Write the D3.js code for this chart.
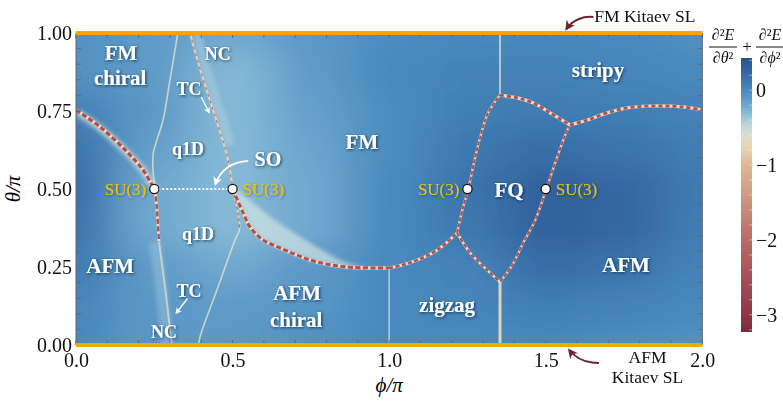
<!DOCTYPE html>
<html>
<head>
<meta charset="utf-8">
<script src="https://cdn.jsdelivr.net/npm/d3@7"></script>
<style>
  body { margin: 0; background: #fff; }
  svg { display: block; }
  text { font-family: "Liberation Serif", "Times New Roman", serif; }
</style>
</head>
<body>
<svg id="chart" width="783" height="401"></svg>
<script>
// ---- data -------------------------------------------------------------
// energy curvature field on a coarse (phi, theta) grid, rows run theta = 0 .. 1
const phiNodes   = [0, 0.25, 0.5, 0.75, 1.0, 1.25, 1.5, 1.75, 2.0];
const thetaNodes = [0, 0.125, 0.25, 0.375, 0.5, 0.625, 0.75, 0.875, 1.0];
const fieldRows = [
  [ 0.00, -0.10, -0.10, -0.05,  0.00,  0.00,  0.00, -0.03, -0.05],
  [ 0.02, -0.10, -0.12, -0.08,  0.00,  0.03,  0.08,  0.05,  0.00],
  [ 0.08, -0.12, -0.20, -0.10,  0.00,  0.05,  0.20,  0.15,  0.05],
  [ 0.15, -0.20, -0.30, -0.20,  0.00,  0.12,  0.30,  0.25,  0.08],
  [ 0.20, -0.20, -0.30, -0.20,  0.00,  0.15,  0.30,  0.25,  0.10],
  [ 0.15, -0.15, -0.30, -0.18, -0.02,  0.12,  0.20,  0.15,  0.08],
  [ 0.05, -0.10, -0.30, -0.15, -0.02,  0.08,  0.10,  0.08,  0.05],
  [-0.05, -0.12, -0.30, -0.12,  0.00,  0.05,  0.05,  0.03,  0.00],
  [-0.05, -0.12, -0.20, -0.10, -0.02,  0.00,  0.02,  0.00, -0.05]
];

// phase boundaries, [phi/pi, theta/pi]
const afmFmChiral   = [[0,0.753],[0.077,0.699],[0.163,0.619],[0.214,0.561],[0.243,0.513],[0.252,0.5]];
const su3LeftDown   = [[0.252,0.5],[0.258,0.44],[0.265,0.33]];
const ncLowerLine   = [[0.265,0.33],[0.285,0.18],[0.30,0.05],[0.305,0.0]];
const q1dLeftUpper  = [[0.252,0.5],[0.246,0.56],[0.247,0.615],[0.278,0.721],[0.30,0.849],[0.323,0.987],[0.325,1.0]];
const tcUpper       = [[0.365,1.0],[0.374,0.962],[0.419,0.811],[0.450,0.715],[0.473,0.641],[0.489,0.577],[0.5,0.5]];
const q1dLowerRight = [[0.5,0.5],[0.518,0.42],[0.522,0.37],[0.508,0.337],[0.45,0.176],[0.396,0.026],[0.392,0]];
const soCurve       = [[0.5,0.5],[0.534,0.423],[0.556,0.378],[0.597,0.337],[0.652,0.311],[0.706,0.288],[0.770,0.266],[0.866,0.250],[1.0,0.247]];
const soBandUpper   = [[0.511,0.5],[0.556,0.465],[0.604,0.423],[0.668,0.378],[0.732,0.337],[0.796,0.298],[0.859,0.266],[0.907,0.253]];
const zigzagFm      = [[1.0,0.247],[1.045,0.257],[1.089,0.272],[1.153,0.304],[1.217,0.359]];
const fqLeft        = [[1.217,0.359],[1.236,0.442],[1.253,0.5],[1.268,0.571],[1.291,0.667],[1.316,0.744],[1.354,0.801]];
const fqStripy      = [[1.354,0.801],[1.409,0.792],[1.460,0.776],[1.514,0.744],[1.578,0.705]];
const stripyAfm     = [[1.578,0.705],[1.633,0.721],[1.697,0.744],[1.760,0.760],[1.834,0.766],[1.939,0.763],[2.0,0.753]];
const fqRight       = [[1.578,0.705],[1.569,0.689],[1.537,0.603],[1.502,0.5],[1.467,0.401],[1.428,0.327],[1.393,0.256],[1.354,0.202]];
const fqBottom      = [[1.217,0.359],[1.259,0.295],[1.313,0.240],[1.354,0.202]];
const kitaevTop     = [[1.354,0.801],[1.354,1.0]];
const kitaevBottom  = [[1.354,0.202],[1.354,0.0]];
const chiralZigzag  = [[1.0,0.247],[1.0,0.0]];

// SU(3) points and the SO segment between the first two
const su3Points = [[0.25,0.5,"left"],[0.5,0.5,"right"],[1.25,0.5,"left"],[1.5,0.5,"right"]];

// phase names: text, phi, theta (baseline), size
const phaseLabels = [
  ["FM", 0.144, 0.913, 21], ["chiral", 0.141, 0.833, 21],
  ["NC", 0.453, 0.913, 18], ["TC", 0.361, 0.801, 18], ["q1D", 0.358, 0.609, 18],
  ["SO", 0.613, 0.574, 20], ["FM", 0.913, 0.628, 21], ["stripy", 1.667, 0.859, 21],
  ["FQ", 1.383, 0.474, 21], ["AFM", 0.109, 0.231, 21], ["q1D", 0.390, 0.337, 18],
  ["TC", 0.361, 0.154, 18], ["NC", 0.281, 0.022, 18],
  ["AFM", 0.706, 0.144, 21], ["chiral", 0.703, 0.058, 21],
  ["zigzag", 1.185, 0.106, 21], ["AFM", 1.756, 0.234, 21]
];

const thetaTicks = [0, 0.25, 0.5, 0.75, 1.0];
const phiTicks   = [0, 0.5, 1.0, 1.5, 2.0];
const barTicks   = [0, -1, -2, -3];

// colour map of the curvature
const cmapValues = [0.43, 0.25, 0.1, 0, -0.15, -0.3, -0.45, -0.6, -0.8, -1.0, -1.4, -2.0, -2.5, -3.0, -3.23];
const cmapColors = ["#28548e","#3466a1","#3f7bb2","#4a89bd","#63a0cb","#86b9d6","#b9d5dc",
                    "#dcdfcd","#e6d2b0","#dcb795","#cf9a83","#b96b66","#a4505a","#8c3747","#7b2a3b"];

// ---- setup ------------------------------------------------------------
const svg = d3.select("#chart");
const x = d3.scaleLinear([0, 2], [76, 702.3]);
const y = d3.scaleLinear([0, 1], [345, 33]);
const color = d3.scaleLinear(cmapValues, cmapColors).clamp(true);
const barY = d3.scaleLinear([-3.23, 0.43], [332, 58]);

const defs = svg.append("defs");
defs.append("clipPath").attr("id", "plotClip")
  .append("rect").attr("x", x(0)).attr("y", y(1)).attr("width", x(2) - x(0)).attr("height", y(0) - y(1));

const fieldBlur = defs.append("filter").attr("id", "fieldBlur")
  .attr("filterUnits", "userSpaceOnUse").attr("x", -100).attr("y", -100).attr("width", 1000).attr("height", 600);
fieldBlur.append("feGaussianBlur").attr("stdDeviation", "24 13");

const softBlur = defs.append("filter").attr("id", "softBlur")
  .attr("x", "-20%").attr("y", "-20%").attr("width", "140%").attr("height", "140%");
softBlur.append("feGaussianBlur").attr("stdDeviation", 2.2);

const lineBlur = defs.append("filter").attr("id", "lineBlur")
  .attr("x", "-20%").attr("y", "-20%").attr("width", "140%").attr("height", "140%");
lineBlur.append("feGaussianBlur").attr("stdDeviation", 0.5);

function shadowFilter(id, dev, op) {
  const f = defs.append("filter").attr("id", id).attr("x", "-30%").attr("y", "-40%").attr("width", "160%").attr("height", "180%");
  f.append("feGaussianBlur").attr("in", "SourceAlpha").attr("stdDeviation", dev);
  f.append("feOffset").attr("dx", 1).attr("dy", 1.2).attr("result", "b");
  f.append("feFlood").attr("flood-color", "#0f2742").attr("flood-opacity", op);
  f.append("feComposite").attr("in2", "b").attr("operator", "in");
  const m = f.append("feMerge");
  m.append("feMergeNode");
  m.append("feMergeNode").attr("in", "SourceGraphic");
}
shadowFilter("textShadow", 1.6, 0.85);
shadowFilter("labelShadow", 1.2, 0.45);

function arrowMarker(id, fill) {
  defs.append("marker").attr("id", id).attr("viewBox", "0 0 10 10")
    .attr("refX", 8).attr("refY", 5).attr("markerWidth", 5).attr("markerHeight", 5)
    .attr("orient", "auto-start-reverse")
    .append("path").attr("d", "M0,0 L10,5 L0,10 L3,5 Z").attr("fill", fill);
}
arrowMarker("arrowWhite", "#ffffff");
arrowMarker("arrowMaroon", "#6e2335");

// ---- field ------------------------------------------------------------
const plot = svg.append("g").attr("clip-path", "url(#plotClip)");
const cells = [];
thetaNodes.forEach((t, j) => phiNodes.forEach((p, i) => cells.push({ p, t, v: fieldRows[j][i], i, j })));
const dphi = 0.125, dth = 0.0625;
const last = phiNodes.length - 1, lastT = thetaNodes.length - 1;
const cellX0 = d => x(d.i === 0 ? d.p - 0.6 : d.p - dphi);
const cellX1 = d => x(d.i === last ? d.p + 0.6 : d.p + dphi);
const cellY0 = d => y(d.j === lastT ? d.t + 0.4 : d.t + dth);
const cellY1 = d => y(d.j === 0 ? d.t - 0.4 : d.t - dth);
plot.append("g").attr("filter", "url(#fieldBlur)")
  .selectAll("rect").data(cells).join("rect")
  .attr("x", cellX0).attr("width", d => cellX1(d) - cellX0(d) + 0.5)
  .attr("y", cellY0).attr("height", d => cellY1(d) - cellY0(d) + 0.5)
  .attr("fill", d => color(d.v));

// ---- light halos around transitions ------------------------------------
const line = d3.line().x(d => x(d[0])).y(d => y(d[1])).curve(d3.curveCatmullRom.alpha(0.5));
const halos = plot.append("g").attr("filter", "url(#softBlur)");
// SO band above the SO boundary
halos.append("path")
  .attr("d", line(soBandUpper) + "L" + soCurve.slice().reverse().map(d => x(d[0]) + "," + y(d[1])).join("L") + "Z")
  .attr("fill", "#d3e4e2").attr("opacity", 0.7);
// band under the AFM / FM chiral boundary
halos.append("path").attr("d", line(afmFmChiral)).attr("transform", "translate(2,3)")
  .attr("fill", "none").attr("stroke", "#dfe6d8").attr("stroke-width", 7).attr("opacity", 0.7);
// NC strips
halos.append("path").attr("d", line(tcUpper.slice(0, 5))).attr("transform", "translate(6,0)")
  .attr("fill", "none").attr("stroke", "#b7d6e2").attr("stroke-width", 10).attr("opacity", 0.45);
halos.append("path").attr("d", line(ncLowerLine)).attr("transform", "translate(-4,0)")
  .attr("fill", "none").attr("stroke", "#a9cde0").attr("stroke-width", 12).attr("opacity", 0.4);

// ---- phase boundaries ---------------------------------------------------
const lines = plot.append("g").attr("filter", "url(#lineBlur)");
function boundary(data, w, dash, creamOp) {
  lines.append("path").attr("d", line(data)).attr("fill", "none")
    .attr("stroke", "#e9dcc0").attr("stroke-width", w + 0.4).attr("opacity", creamOp);
  lines.append("path").attr("d", line(data)).attr("fill", "none")
    .attr("stroke", "#ad4f55").attr("stroke-width", w).attr("stroke-dasharray", dash);
}
function faint(data, w, col, op) {
  lines.append("path").attr("d", line(data)).attr("fill", "none")
    .attr("stroke", col).attr("stroke-width", w).attr("opacity", op);
}
faint(q1dLeftUpper, 1.6, "#e4e2c8", 0.8);
faint(tcUpper, 2.0, "#e8dcc0", 0.85);
lines.append("path").attr("d", line(tcUpper)).attr("fill", "none")
  .attr("stroke", "#b5575a").attr("stroke-width", 1.2).attr("stroke-dasharray", "3,4").attr("opacity", 0.8);
faint(ncLowerLine, 2.0, "#e4e2c8", 0.7);
faint(q1dLowerRight, 1.6, "#e4e2c8", 0.8);
faint(chiralZigzag, 1.5, "#c7e0ea", 0.85);
faint(kitaevTop, 2.0, "#e6e4cc", 0.7);
faint(kitaevBottom, 3.0, "#e7dfc2", 0.9);

boundary(afmFmChiral, 3.2, "5,2.5", 1);
boundary(su3LeftDown, 2.4, "5,2.5", 1);
boundary(soCurve, 3.0, "5,2.5", 1);
boundary(zigzagFm, 2.6, "4,2.5", 1);
boundary(fqLeft, 2.0, "4,2", 0.9);
boundary(fqBottom, 2.2, "4,2.5", 1);
boundary(fqRight, 2.0, "4,2", 0.9);
boundary(fqStripy, 2.8, "4,3", 1);
boundary(stripyAfm, 2.8, "4,3", 1);
lines.append("path").attr("d", line(q1dLowerRight.slice(0, 3))).attr("fill", "none")
  .attr("stroke", "#b5575a").attr("stroke-width", 1.4).attr("stroke-dasharray", "3,3").attr("opacity", 0.8);

// ---- frame, ticks, axes -------------------------------------------------
const frame = svg.append("g");
function minorTicks(axis, vals, len, orient) {
  frame.append("g").selectAll("line").data(vals).join("line")
    .attr("x1", d => orient === "h" ? x(d) : axis)
    .attr("x2", d => orient === "h" ? x(d) : axis + len)
    .attr("y1", d => orient === "h" ? axis : y(d))
    .attr("y2", d => orient === "h" ? axis + len : y(d))
    .attr("stroke", "#606a74").attr("stroke-width", 1);
}
const thetaMinor = d3.range(0, 1.0001, 0.05);
const phiMinor = d3.range(0, 2.0001, 0.1);
minorTicks(x(0), thetaMinor, 5, "v");
minorTicks(x(2), thetaMinor, -5, "v");
minorTicks(y(0), phiMinor, -5, "h");
minorTicks(y(1), phiMinor, 5, "h");
frame.append("line").attr("x1", x(0)).attr("x2", x(0)).attr("y1", y(0)).attr("y2", y(1)).attr("stroke", "#5b6570");
frame.append("line").attr("x1", x(2)).attr("x2", x(2)).attr("y1", y(0)).attr("y2", y(1)).attr("stroke", "#5b6570");

// Kitaev spin-liquid lines along theta = 0 and theta = 1
frame.selectAll("line.kit").data([0, 1]).join("line").attr("class", "kit")
  .attr("x1", x(0)).attr("x2", x(2)).attr("y1", d => y(d)).attr("y2", d => y(d))
  .attr("stroke", "#f5a700").attr("stroke-width", 4);

const yAxis = svg.append("g").attr("transform", `translate(${x(0)},0)`)
  .call(d3.axisLeft(y).tickValues(thetaTicks).tickSize(0).tickPadding(4).tickFormat(d3.format(".2f")));
const xAxis = svg.append("g").attr("transform", `translate(0,${y(0)})`)
  .call(d3.axisBottom(x).tickValues(phiTicks).tickSize(0).tickPadding(8).tickFormat(d3.format(".1f")));
[xAxis, yAxis].forEach(a => {
  a.select(".domain").remove();
  a.selectAll("text").attr("font-size", 20).attr("fill", "#111")
    .style("font-family", "'Liberation Serif', serif");
});

svg.append("text").attr("x", x(1)).attr("y", 392).attr("text-anchor", "middle")
  .attr("font-size", 21).attr("font-style", "italic").text("ϕ/π");
svg.append("text").attr("transform", `translate(20,${y(0.5)}) rotate(-90)`).attr("text-anchor", "middle")
  .attr("font-size", 21).attr("font-style", "italic").text("θ/π");

// ---- SO segment and SU(3) points ----------------------------------------
svg.append("line")
  .attr("x1", x(su3Points[0][0])).attr("x2", x(su3Points[1][0]))
  .attr("y1", y(su3Points[0][1])).attr("y2", y(su3Points[1][1]))
  .attr("stroke", "#fff").attr("stroke-width", 2).attr("stroke-dasharray", "2,2");
svg.append("g").selectAll("circle").data(su3Points).join("circle")
  .attr("cx", d => x(d[0])).attr("cy", d => y(d[1])).attr("r", 4.6)
  .attr("fill", "#fff").attr("stroke", "#111").attr("stroke-width", 1.2);
svg.append("g").attr("filter", "url(#labelShadow)").selectAll("text").data(su3Points).join("text")
  .attr("x", d => x(d[0]) + (d[2] === "left" ? -8 : 10))
  .attr("y", d => y(d[1]) + 6)
  .attr("text-anchor", d => d[2] === "left" ? "end" : "start")
  .attr("font-size", 17).attr("fill", "#f0c400").text("SU(3)");

// ---- phase names --------------------------------------------------------
svg.append("g").attr("filter", "url(#textShadow)").selectAll("text").data(phaseLabels).join("text")
  .attr("x", d => x(d[1])).attr("y", d => y(d[2]))
  .attr("text-anchor", "middle").attr("font-weight", "bold")
  .attr("font-size", d => d[3]).attr("fill", "#fff").text(d => d[0]);

// pointer arrows for TC and SO
const pointers = svg.append("g").attr("fill", "none").attr("stroke", "#fff").attr("stroke-width", 1.3);
pointers.append("path")
  .attr("d", `M${x(0.400)},${y(0.795)} L${x(0.425)},${y(0.745)}`).attr("marker-end", "url(#arrowWhite)");
pointers.append("path")
  .attr("d", `M${x(0.356)},${y(0.149)} L${x(0.320)},${y(0.102)}`).attr("marker-end", "url(#arrowWhite)");
pointers.append("path").attr("stroke-width", 1.8)
  .attr("d", `M${x(0.55)},${y(0.59)} Q${x(0.47)},${y(0.585)} ${x(0.445)},${y(0.515)}`)
  .attr("marker-end", "url(#arrowWhite)");

// ---- Kitaev spin-liquid annotations -------------------------------------
const notes = svg.append("g").attr("font-size", 17.5).attr("fill", "#111");
notes.append("text").attr("x", x(1.655)).attr("y", 22).attr("text-anchor", "start").text("FM Kitaev SL");
notes.append("text").attr("x", x(1.825)).attr("y", 363).attr("text-anchor", "middle").text("AFM");
notes.append("text").attr("x", x(1.825)).attr("y", 383).attr("text-anchor", "middle").text("Kitaev SL");
const kArrows = svg.append("g").attr("fill", "none").attr("stroke", "#6e2335").attr("stroke-width", 2);
kArrows.append("path")
  .attr("d", `M${x(1.652)},17 C${x(1.62)},16 ${x(1.585)},20 ${x(1.566)},29`).attr("marker-end", "url(#arrowMaroon)");
kArrows.append("path")
  .attr("d", `M${x(1.67)},363 C${x(1.63)},363 ${x(1.595)},358 ${x(1.575)},350`).attr("marker-end", "url(#arrowMaroon)");

// ---- colour bar --------------------------------------------------------
const grad = defs.append("linearGradient").attr("id", "barGrad")
  .attr("x1", 0).attr("x2", 0).attr("y1", 1).attr("y2", 0);
grad.selectAll("stop").data(cmapValues.slice().reverse()).join("stop")
  .attr("offset", d => (d - (-3.23)) / (0.43 + 3.23))
  .attr("stop-color", d => color(d));
svg.append("rect").attr("x", 741).attr("y", barY(0.43)).attr("width", 11)
  .attr("height", barY(-3.23) - barY(0.43)).attr("fill", "url(#barGrad)");
svg.append("g").selectAll("line").data(d3.range(-3.2, 0.41, 0.2)).join("line")
  .attr("x1", 749).attr("x2", 752).attr("y1", d => barY(d)).attr("y2", d => barY(d))
  .attr("stroke", "#fff").attr("stroke-opacity", 0.45);
const barAxis = svg.append("g").attr("transform", "translate(752,0)")
  .call(d3.axisRight(barY).tickValues(barTicks).tickSize(0).tickPadding(4).tickFormat(d => d === 0 ? "0" : "\u2212" + Math.abs(d)));
barAxis.select(".domain").remove();
barAxis.selectAll("text").attr("font-size", 20).attr("fill", "#111")
  .style("font-family", "'Liberation Serif', serif");

// colour bar title: d2E/dtheta2 + d2E/dphi2
const title = svg.append("g").attr("font-size", 16).attr("fill", "#111");
function fraction(cx, sym) {
  const num = title.append("text").attr("x", cx).attr("y", 40).attr("text-anchor", "middle");
  num.append("tspan").text("\u2202\u00b2");
  num.append("tspan").attr("font-style", "italic").text("E");
  const den = title.append("text").attr("x", cx).attr("y", 63).attr("text-anchor", "middle");
  den.append("tspan").text("\u2202");
  den.append("tspan").attr("font-style", "italic").text(sym);
  den.append("tspan").text("\u00b2");
  title.append("line").attr("x1", cx - 14).attr("x2", cx + 14).attr("y1", 47).attr("y2", 47)
    .attr("stroke", "#111").attr("stroke-width", 1);
}
fraction(723, "θ");
title.append("text").attr("x", 747).attr("y", 52).attr("text-anchor", "middle").attr("font-size", 17).text("+");
fraction(770, "ϕ");
</script>
</body>
</html>
